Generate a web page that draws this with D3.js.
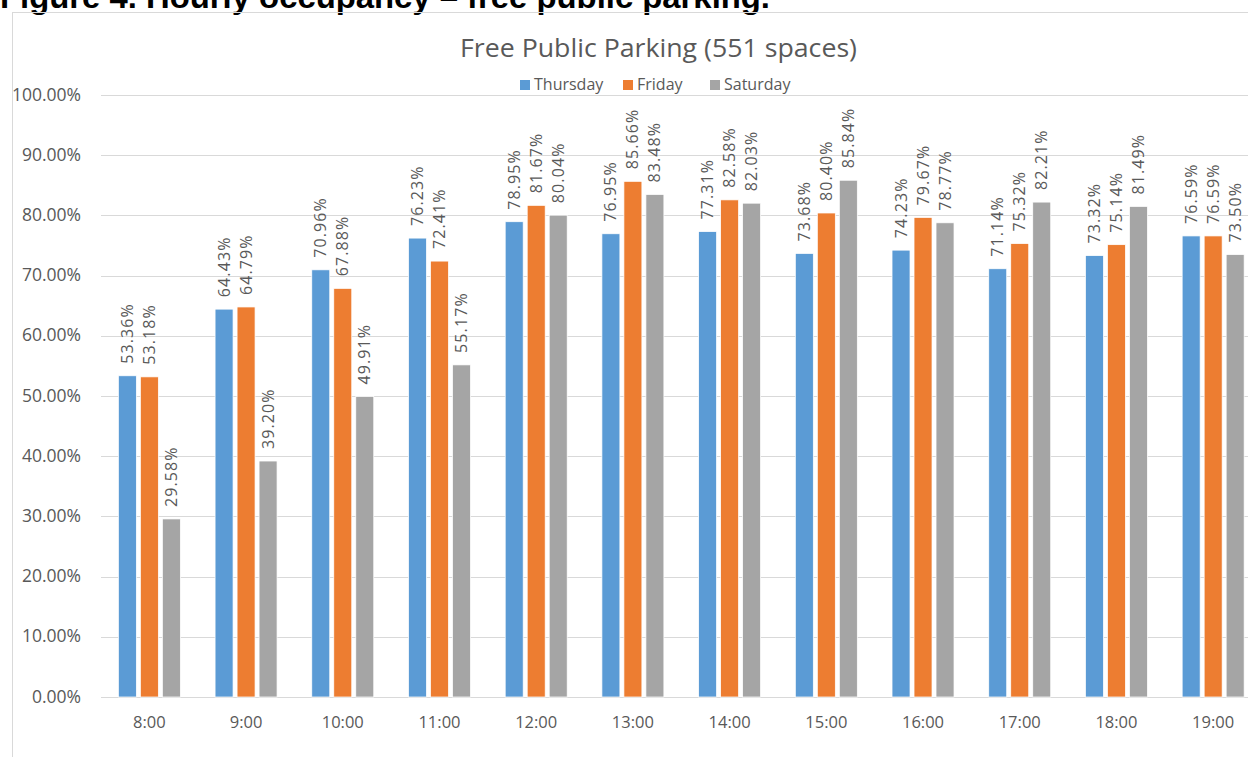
<!DOCTYPE html>
<html>
<head>
<meta charset="utf-8">
<script src="https://cdn.jsdelivr.net/npm/d3@7"></script>
<style>
  body { margin: 0; background: #fff; }
  svg { display: block; }
</style>
</head>
<body>
<svg id="chart" width="1248" height="757"></svg>
<script>
// data
var hours = ["8:00", "9:00", "10:00", "11:00", "12:00", "13:00", "14:00", "15:00", "16:00", "17:00", "18:00", "19:00"];
var days = ["Thursday", "Friday", "Saturday"];
var thursday = [53.36, 64.43, 70.96, 76.23, 78.95, 76.95, 77.31, 73.68, 74.23, 71.14, 73.32, 76.59];
var friday   = [53.18, 64.79, 67.88, 72.41, 81.67, 85.66, 82.58, 80.40, 79.67, 75.32, 75.14, 76.59];
var saturday = [29.58, 39.20, 49.91, 55.17, 80.04, 83.48, 82.03, 85.84, 78.77, 82.21, 81.49, 73.50];
var yTicks = [0, 10, 20, 30, 40, 50, 60, 70, 80, 90, 100];

var series = [thursday, friday, saturday];
var colors = ["#5B9BD5", "#ED7D31", "#A5A5A5"];
var font = "'Open Sans', 'Liberation Sans', sans-serif";

var svg = d3.select("#chart");

// figure caption, mostly cut off by the top edge
svg.append("text")
    .attr("x", 0)
    .attr("y", 8)
    .attr("font-family", "'Liberation Sans', Arial, sans-serif")
    .attr("font-weight", "bold")
    .attr("font-size", "31px")
    .attr("textLength", 770)
    .attr("lengthAdjust", "spacingAndGlyphs")
    .attr("fill", "#000")
    .text("Figure 4. Hourly occupancy \u2013 free public parking.");

// chart frame
svg.append("rect")
    .attr("x", 12.5)
    .attr("y", 12.5)
    .attr("width", 1260)
    .attr("height", 800)
    .attr("fill", "none")
    .attr("stroke", "#D9D9D9");

var plot = { left: 101, right: 1261.5, top: 95, bottom: 697 };

var x = d3.scaleBand()
    .domain(hours)
    .range([plot.left, plot.right]);

var y = d3.scaleLinear()
    .domain([0, 100])
    .range([plot.bottom, plot.top]);

var barW = 18, barStep = 22;

// gridlines
svg.append("g")
    .selectAll("line")
    .data(yTicks)
    .enter()
    .append("line")
        .attr("x1", plot.left)
        .attr("x2", plot.right)
        .attr("y1", function(d){ return Math.round(y(d)) + 0.5 })
        .attr("y2", function(d){ return Math.round(y(d)) + 0.5 })
        .attr("stroke", "#D9D9D9")
        .attr("stroke-width", 1);

// y labels
svg.append("g")
    .selectAll("text")
    .data(yTicks)
    .enter()
    .append("text")
        .attr("x", 81)
        .attr("y", function(d){ return y(d) + 5.5 })
        .attr("text-anchor", "end")
        .attr("font-family", font)
        .attr("font-size", "17.5px")
        .attr("fill", "#595959")
        .text(function(d){ return d.toFixed(2) + "%" });

// bars and labels
series.forEach(function(vals, s) {
    var off = (s - 1) * barStep - barW / 2;
    var g = svg.append("g");

    g.selectAll("rect")
        .data(vals)
        .enter()
        .append("rect")
            .attr("x", function(d, i){ return x(hours[i]) + x.bandwidth() / 2 + off })
            .attr("y", function(d){ return y(d) })
            .attr("width", barW)
            .attr("height", function(d){ return y(0) - y(d) })
            .attr("fill", colors[s])
            .attr("stroke", "#fff")
            .attr("stroke-width", 0.75);

    g.selectAll("text")
        .data(vals)
        .enter()
        .append("text")
            .attr("transform", function(d, i) {
                var cx = x(hours[i]) + x.bandwidth() / 2 + off + barW / 2 + 5.5;
                return "translate(" + cx + "," + (y(d) - 12) + ") rotate(-90)";
            })
            .attr("font-family", font)
            .attr("font-size", "16px")
            .attr("letter-spacing", "1.1px")
            .attr("fill", "#595959")
            .text(function(d){ return d.toFixed(2) + "%" });
});

// x labels
svg.append("g")
    .selectAll("text")
    .data(hours)
    .enter()
    .append("text")
        .attr("x", function(d){ return x(d) + x.bandwidth() / 2 })
        .attr("y", 728)
        .attr("text-anchor", "middle")
        .attr("font-family", font)
        .attr("font-size", "16.5px")
        .attr("fill", "#595959")
        .text(function(d){ return d });

// title
svg.append("text")
    .attr("x", 658.5)
    .attr("y", 57)
    .attr("text-anchor", "middle")
    .attr("font-family", font)
    .attr("font-size", "25px")
    .attr("textLength", 397)
    .attr("lengthAdjust", "spacingAndGlyphs")
    .attr("fill", "#595959")
    .text("Free Public Parking (551 spaces)");

// legend
var legendX = [520, 623, 710];
var legend = svg.append("g")
    .selectAll("g")
    .data(days)
    .enter()
    .append("g")
        .attr("transform", function(d, i){ return "translate(" + legendX[i] + ",80)" });

legend.append("rect")
    .attr("width", 10)
    .attr("height", 10)
    .attr("fill", function(d, i){ return colors[i] });

legend.append("text")
    .attr("x", 14)
    .attr("y", 10)
    .attr("font-family", font)
    .attr("font-size", "16px")
    .attr("fill", "#595959")
    .text(function(d){ return d });
</script>
</body>
</html>
